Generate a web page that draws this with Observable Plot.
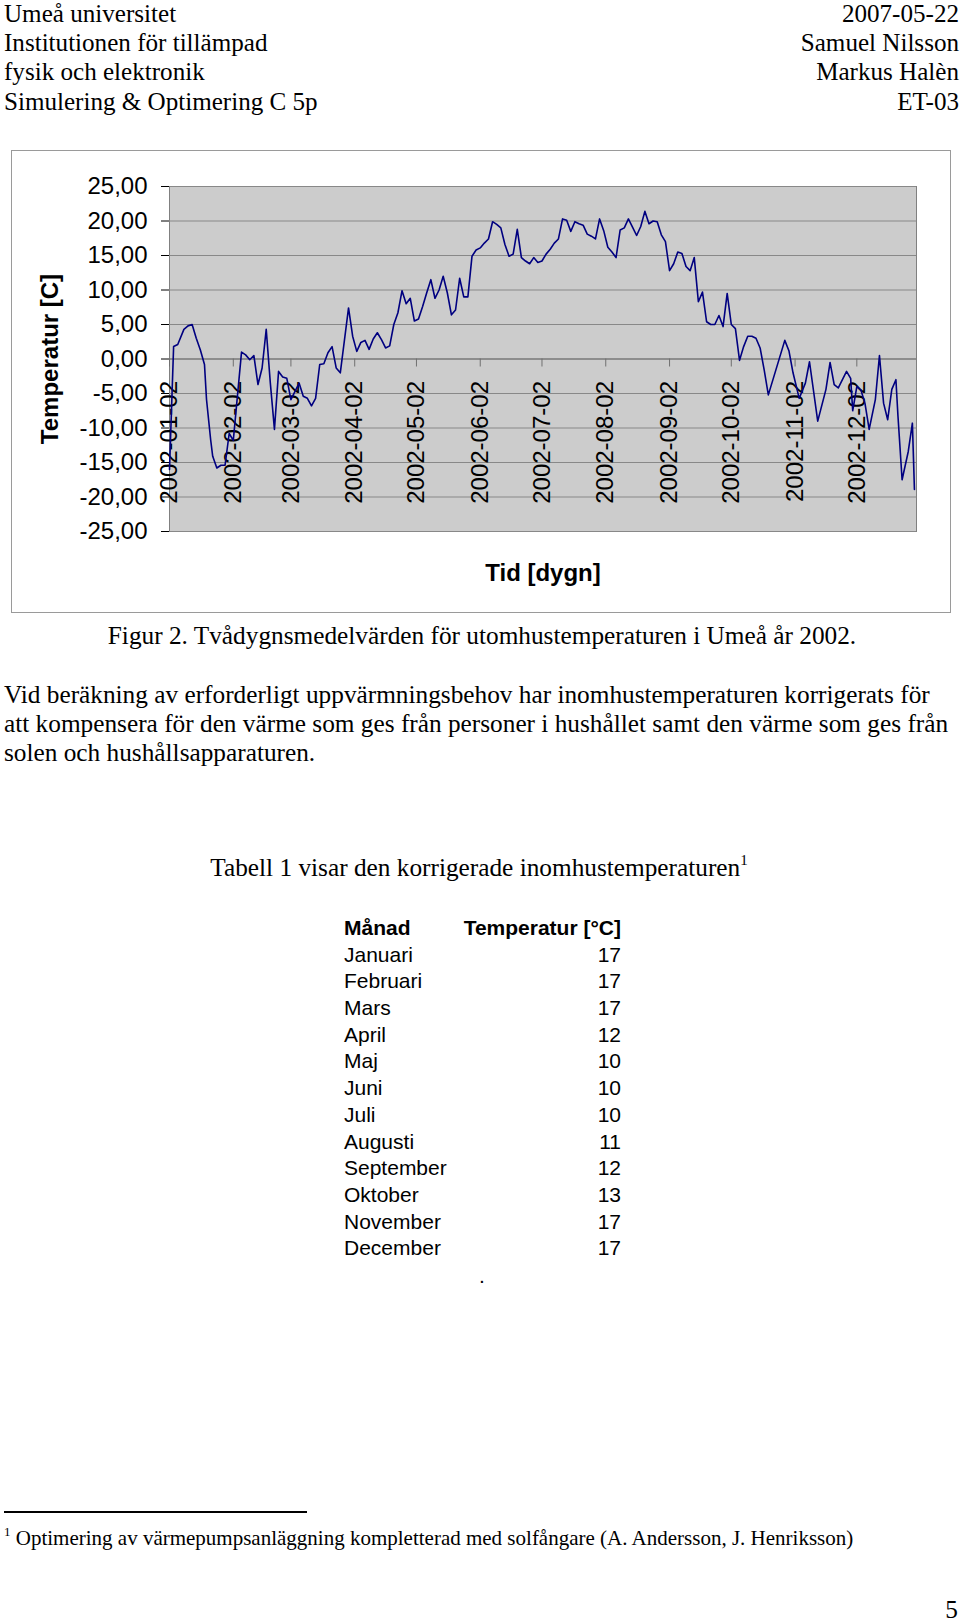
<!DOCTYPE html>
<html>
<head>
<meta charset="utf-8">
<script src="https://cdn.jsdelivr.net/npm/d3@7"></script>
<script src="https://cdn.jsdelivr.net/npm/@observablehq/plot@0.6"></script>
<style>
  html, body { margin: 0; padding: 0; background: #fff; }
  body { width: 960px; height: 1620px; position: relative; overflow: hidden;
         font-family: "Liberation Serif", "Times New Roman", serif; color: #000; }
  .abs { position: absolute; white-space: nowrap; }
  .serif25 { font-size: 25.3px; line-height: 29.2px; }
  #chart { position: absolute; left: 11px; top: 150px; }
  #chartBorder { position: absolute; left: 11px; top: 150px; width: 940px; height: 463px;
                 border: 1px solid #9a9a9a; box-sizing: border-box; pointer-events: none; }
  #table { position: absolute; left: 344px; top: 915px; width: 277px;
           font-family: "Liberation Sans", Arial, sans-serif; font-size: 21px; }
  #table .row { position: relative; height: 26.7px; line-height: 26.7px; }
  #table .row .v { position: absolute; right: 0; top: 0; }
  #table .head { font-weight: bold; }
</style>
</head>
<body>
<div class="abs serif25" style="left:4px; top:-1px; font-size:25.1px;">Umeå universitet<br>Institutionen för tillämpad<br>fysik och elektronik<br>Simulering &amp; Optimering C 5p</div>
<div class="abs serif25" style="right:1px; top:-1px; text-align:right; font-size:25.1px;">2007-05-22<br>Samuel Nilsson<br>Markus Halèn<br>ET-03</div>

<div id="chart"></div>
<div id="chartBorder"></div>

<div class="abs serif25" style="left:0; width:964px; top:621px; text-align:center;">Figur 2. Tvådygnsmedelvärden för utomhustemperaturen i Umeå år 2002.</div>

<div class="abs serif25" style="left:4px; top:680px;">Vid beräkning av erforderligt uppvärmningsbehov har inomhustemperaturen korrigerats för<br>att kompensera för den värme som ges från personer i hushållet samt den värme som ges från<br>solen och hushållsapparaturen.</div>

<div class="abs serif25" style="left:0; width:958px; top:853px; text-align:center;">Tabell 1 visar den korrigerade inomhustemperaturen<span style="font-size:15px; position:relative; top:-11px;">1</span></div>

<div id="table"></div>
<div class="abs" style="left:479px; top:1264px; font-family:'Liberation Sans',Arial,sans-serif; font-size:21px;">.</div>

<div class="abs" style="left:4px; top:1511px; width:303px; height:1.5px; background:#000;"></div>
<div class="abs" style="left:4px; top:1526px; font-size:21px; line-height:24px;"><span style="font-size:13px; position:relative; top:-9px;">1</span> Optimering av värmepumpsanläggning kompletterad med solfångare (A. Andersson, J. Henriksson)</div>

<div class="abs serif25" style="right:2px; top:1595px;">5</div>

<script>
// ---- Chart data: two-day mean outdoor temperature, Umeå 2002 ----
// day offsets from 2002-01-01
const dayOffsets = [
  1,3,5,8,10,12,14,16,18,19,21,22,24,26,28,30,32,36,38,40,
  42,44,46,48,50,52,54,56,58,60,64,66,68,70,72,74,76,78,80,82,
  84,88,90,92,94,96,98,100,102,104,106,108,110,112,114,116,118,120,122,124,
  126,128,130,132,134,136,138,140,142,144,146,148,150,152,154,156,158,160,162,164,
  166,168,170,172,174,176,178,180,182,184,186,188,190,192,194,196,198,200,202,204,
  206,208,210,212,214,216,218,220,222,224,226,228,230,232,234,236,238,240,242,244,
  246,248,250,252,254,256,258,260,262,264,266,268,270,272,274,276,278,280,282,284,
  286,288,290,292,300,302,304,307,310,312,316,320,322,324,326,330,332,333,335,337,
  339,341,344,346,348,350,352,354,355,357,360,362,363
];
const temperatures = [
  -16,1.8,2.1,4.3,4.8,5.0,3.0,1.3,-0.8,-5.9,-11.7,-14.1,-15.8,-15.4,-15.4,-10.8,-11.8,1.0,0.6,-0.1,
  0.5,-3.7,-1.3,4.3,-3.5,-10.2,-1.8,-2.6,-2.8,-5.9,-3.5,-5.4,-5.7,-6.8,-5.7,-0.8,-0.7,0.9,1.8,-1.3,
  -2.0,7.4,3.3,1.1,2.4,2.7,1.4,2.9,3.8,2.8,1.6,1.9,5.0,6.7,9.9,8.0,8.8,5.5,5.8,7.6,
  9.6,11.5,8.8,10.0,12.0,9.6,6.4,7.1,11.7,9.0,9.0,14.9,15.8,16.1,16.8,17.4,19.9,19.5,19.0,16.6,
  14.9,15.2,18.8,14.7,14.2,13.8,14.7,14.0,14.2,15.2,15.9,16.8,17.4,20.3,20.1,18.5,19.9,19.6,19.4,18.1,
  17.8,17.4,20.3,18.6,16.2,15.5,14.7,18.7,19.0,20.3,19.1,17.9,19.2,21.4,19.6,20.0,19.9,18.0,17.0,12.8,
  13.8,15.5,15.3,13.4,12.8,14.7,8.3,9.7,5.4,5.0,5.0,6.3,4.7,9.5,5.0,4.4,-0.2,1.8,3.3,3.3,
  3.0,1.6,-1.6,-5.2,2.7,1.2,-2.0,-5.7,-3.5,-0.4,-9.0,-4.4,-0.5,-3.7,-4.2,-1.8,-2.8,-7.5,-4.0,-4.5,
  -6.5,-10.2,-5.9,0.5,-6.4,-8.8,-4.4,-3.0,-8.3,-17.5,-13.4,-9.3,-18.9
];
const yTicks = [-25, -20, -15, -10, -5, 0, 5, 10, 15, 20, 25];
const xTickLabels = ["2002-01-02","2002-02-02","2002-03-02","2002-04-02","2002-05-02","2002-06-02",
                     "2002-07-02","2002-08-02","2002-09-02","2002-10-02","2002-11-02","2002-12-02"];
const xDomainLabels = ["2002-01-02", "2002-12-31"];
const yTitle = "Temperatur [C]";
const xTitle = "Tid [dygn]";

// ---- Table data ----
const months = ["Januari","Februari","Mars","April","Maj","Juni","Juli","Augusti","September","Oktober","November","December"];
const indoorTemps = [17,17,17,12,10,10,10,11,12,13,17,17];

const parse = d3.utcParse("%Y-%m-%d");
const data = dayOffsets.map((d, i) => ({date: new Date(Date.UTC(2002, 0, 1 + d)), temp: temperatures[i]}));
const tickDates = xTickLabels.map(parse);

const chart = Plot.plot({
  width: 940,
  height: 463,
  marginLeft: 158,
  marginRight: 35,
  marginTop: 36,
  marginBottom: 82,
  style: {fontFamily: "'Liberation Sans', Arial, sans-serif", fontSize: "24px", background: "transparent", color: "#000", overflow: "visible"},
  x: {type: "utc", domain: xDomainLabels.map(parse), axis: null},
  y: {domain: [-25, 25], ticks: yTicks, tickFormat: d => d.toFixed(2).replace(".", ","), tickSize: 8, tickPadding: 14, label: null},
  marks: [
    Plot.frame({fill: "#cccccc", stroke: "#808080"}),
    Plot.ruleY(yTicks, {stroke: "#888888", strokeWidth: 1}),
    Plot.ruleY([0], {stroke: "#707070"}),
    Plot.ruleX(tickDates, {x: d => d, y1: () => 0, y2: () => 0, insetBottom: -8, stroke: "#707070"}),
    Plot.text(tickDates, {x: d => d, y: () => 0, text: (d, i) => xTickLabels[i], rotate: -90,
                          textAnchor: "end", lineAnchor: "middle", dy: 22, fontSize: 24, fill: "#000"}),
    Plot.line(data, {x: "date", y: "temp", stroke: "#000080", strokeWidth: 1.6}),
    Plot.text([yTitle], {frameAnchor: "left", dx: -119, rotate: -90, textAnchor: "middle", fontWeight: "bold", fontSize: 24, lineAnchor: "middle", fill: "#000"}),
    Plot.text([xTitle], {frameAnchor: "bottom", dy: 42, fontWeight: "bold", fontSize: 24, lineAnchor: "middle", fill: "#000"})
  ]
});
document.getElementById("chart").appendChild(chart);

// table
const table = document.getElementById("table");
const head = document.createElement("div");
head.className = "row head";
head.innerHTML = '<span>Månad</span><span class="v">Temperatur [°C]</span>';
table.appendChild(head);
months.forEach((m, i) => {
  const row = document.createElement("div");
  row.className = "row";
  const a = document.createElement("span"); a.textContent = m;
  const b = document.createElement("span"); b.className = "v"; b.textContent = indoorTemps[i];
  row.appendChild(a); row.appendChild(b);
  table.appendChild(row);
});
</script>
</body>
</html>
